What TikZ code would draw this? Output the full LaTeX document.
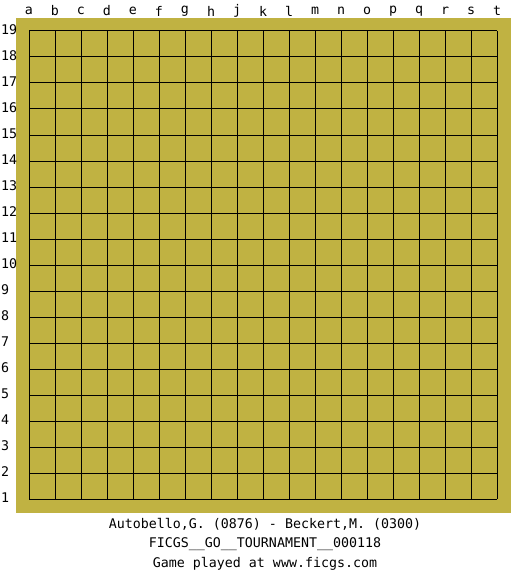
\documentclass[tikz,border=0pt]{standalone}
\usepackage{fontspec}
\newfontfamily\monof{DejaVu Sans Mono}
\definecolor{boardyellow}{RGB}{192,178,66}
\tikzset{
  lbl/.style={font=\monof\fontsize{13.3}{15}\selectfont, inner sep=0pt, text=black},
  gridline/.style={draw=black, line width=1pt}
}
\begin{document}
\begin{tikzpicture}[x=1pt,y=-1pt]
\useasboundingbox[fill=white] (0,0) rectangle (525,575);
\fill[boardyellow] (16,18) rectangle (511,513);
\foreach \i in {0,...,18} {
  \draw[gridline] (29+26*\i,31) -- (29+26*\i,499);
  \draw[gridline] (29,31+26*\i) -- (497,31+26*\i);
}
\foreach \c [count=\i from 0] in {a,b,c,d,e,f,g,h,j,k,l,m,n,o,p,q,r,s,t} {
  \node[lbl] (col\c) at (29+26*\i,11) {\c};
}
\foreach \r [count=\i from 0] in {19,18,...,1} {
  \node[lbl, anchor=west] (row\r) at (1,30+26*\i) {\r};
}
\node[lbl] (t1) at (265,524) {Autobello,G. (0876) - Beckert,M. (0300)};
\node[lbl] (t2) at (265,544) {FICGS\_\_GO\_\_TOURNAMENT\_\_000118};
\node[lbl] (t3) at (265,564) {Game played at www.ficgs.com};
\end{tikzpicture}
\end{document}
